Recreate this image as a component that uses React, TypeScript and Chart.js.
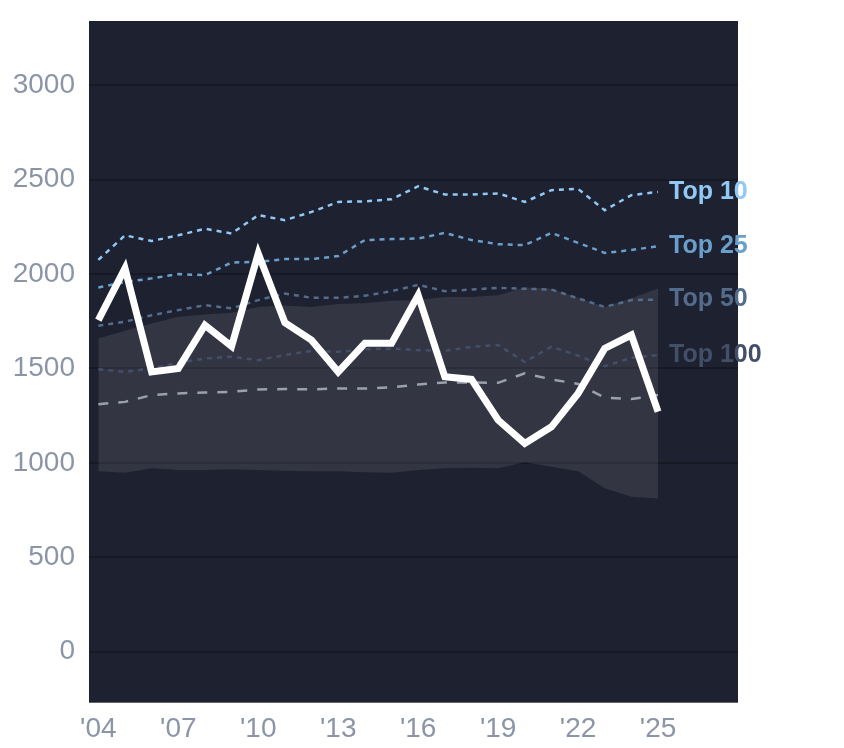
import React, { useEffect, useRef } from "react";
import { Chart, registerables } from "chart.js";

Chart.register(...registerables);

const years = [2004, 2005, 2006, 2007, 2008, 2009, 2010, 2011, 2012, 2013, 2014, 2015, 2016, 2017, 2018, 2019, 2020, 2021, 2022, 2023, 2024, 2025];
const xTicks = [2004, 2007, 2010, 2013, 2016, 2019, 2022, 2025];
const yTicks = [0, 500, 1000, 1500, 2000, 2500, 3000];

const top10 = [2075, 2205, 2175, 2205, 2240, 2215, 2312, 2285, 2329, 2382, 2385, 2396, 2465, 2421, 2421, 2427, 2382, 2444, 2451, 2338, 2418, 2435];
const top25 = [1929, 1957, 1977, 2000, 1994, 2061, 2065, 2079, 2079, 2095, 2180, 2185, 2188, 2218, 2180, 2158, 2153, 2218, 2165, 2112, 2127, 2148];
const top50 = [1726, 1747, 1782, 1809, 1835, 1818, 1862, 1897, 1874, 1874, 1885, 1909, 1943, 1909, 1918, 1927, 1922, 1918, 1871, 1826, 1862, 1865];
const top100 = [1496, 1482, 1500, 1530, 1553, 1562, 1544, 1571, 1593, 1588, 1601, 1606, 1597, 1593, 1615, 1624, 1535, 1615, 1568, 1512, 1556, 1571];
const median = [1311, 1323, 1359, 1368, 1373, 1376, 1389, 1391, 1389, 1394, 1394, 1400, 1415, 1426, 1426, 1424, 1474, 1442, 1418, 1345, 1338, 1359];
const bandUpper = [1659, 1700, 1738, 1774, 1786, 1795, 1826, 1834, 1826, 1841, 1845, 1858, 1862, 1879, 1879, 1888, 1929, 1922, 1875, 1826, 1872, 1924];
const bandLower = [956, 948, 971, 962, 962, 966, 962, 958, 956, 956, 951, 948, 962, 971, 974, 971, 1003, 979, 956, 865, 821, 812];
const player = [1756, 2030, 1482, 1500, 1729, 1618, 2109, 1742, 1650, 1482, 1633, 1633, 1888, 1456, 1442, 1227, 1103, 1191, 1368, 1606, 1677, 1271];

const topLabels = ["Top 10", "Top 25", "Top 50", "Top 100"];
const topColors = ["#90c8f6", "#6a9fcc", "#536c8c", "#434f69"];

const FONT = "'Liberation Sans', Arial, sans-serif";

const pts = (vals: number[]) => vals.map((v, i) => ({ x: years[i], y: v }));

export default function App() {
  const ref = useRef<HTMLCanvasElement | null>(null);

  useEffect(() => {
    if (!ref.current) return;
    const bgPlugin = {
      id: "bg",
      beforeDraw(chart: any) {
        const { ctx, chartArea } = chart;
        ctx.save();
        ctx.fillStyle = "#1e2130";
        ctx.fillRect(chartArea.left, chartArea.top, chartArea.right - chartArea.left, chartArea.bottom - chartArea.top);
        ctx.restore();
      },
    };
    const labelPlugin = {
      id: "endLabels",
      afterDatasetsDraw(chart: any) {
        const { ctx } = chart;
        const xs = chart.scales.x;
        const ys = chart.scales.y;
        const series = [top10, top25, top50, top100];
        ctx.save();
        ctx.font = `bold 25px ${FONT}`;
        ctx.textAlign = "left";
        ctx.textBaseline = "middle";
        series.forEach((s, i) => {
          const last = s.length - 1;
          const x = xs.getPixelForValue(years[last]) + 11;
          const y = ys.getPixelForValue(s[last]);
          ctx.fillStyle = topColors[i];
          ctx.fillText(topLabels[i], x, y);
        });
        ctx.restore();
      },
    };

    const dotted = (data: number[], color: string) => ({
      data: pts(data),
      borderColor: color,
      borderWidth: 2.5,
      borderDash: [5, 5],
      pointRadius: 0,
      fill: false,
    });

    const chart = new Chart(ref.current, {
      type: "line",
      data: {
        datasets: [
          {
            data: pts(player),
            borderColor: "#ffffff",
            borderWidth: 7,
            borderJoinStyle: "miter",
            pointRadius: 0,
            fill: false,
          },
          {
            data: pts(median),
            borderColor: "#9aa0ac",
            borderWidth: 2.5,
            borderDash: [10, 10],
            pointRadius: 0,
            fill: false,
          },
          dotted(top10, topColors[0]),
          dotted(top25, topColors[1]),
          dotted(top50, topColors[2]),
          dotted(top100, topColors[3]),
          {
            data: pts(bandUpper),
            borderWidth: 0,
            borderColor: "rgba(0,0,0,0)",
            backgroundColor: "rgba(255,255,255,0.095)",
            pointRadius: 0,
            fill: "+1",
          },
          {
            data: pts(bandLower),
            borderWidth: 0,
            borderColor: "rgba(0,0,0,0)",
            pointRadius: 0,
            fill: false,
          },
        ] as any,
      },
      options: {
        animation: false,
        responsive: false,
        layout: { padding: { top: 13, right: 98, left: 0, bottom: 0 } },
        plugins: { legend: { display: false }, tooltip: { enabled: false } },
        scales: {
          x: {
            type: "linear",
            min: 2003.65,
            max: 2028,
            afterBuildTicks: (scale: any) => {
              scale.ticks = xTicks.map((v) => ({ value: v }));
            },
            afterFit: (scale: any) => {
              scale.height = 45.3;
              scale.paddingLeft = 0;
              scale.paddingRight = 0;
            },
            grid: { display: false, drawTicks: false },
            border: { display: false },
            ticks: {
              color: "#8b95a7",
              font: { size: 28, family: FONT },
              padding: 10,
              maxRotation: 0,
              autoSkip: false,
              callback: (v: any) => "'" + String(v).slice(2),
            },
          },
          y: {
            type: "linear",
            min: -270,
            max: 3340,
            afterBuildTicks: (scale: any) => {
              scale.ticks = yTicks.map((v) => ({ value: v }));
            },
            afterFit: (scale: any) => {
              scale.width = 81;
              scale.paddingTop = 0;
              scale.paddingBottom = 0;
            },
            grid: { color: "rgba(0,0,0,0.25)", lineWidth: 2, drawTicks: false },
            border: { display: false },
            ticks: {
              color: "#8b95a7",
              font: { size: 28, family: FONT },
              padding: 14,
              callback: (v: any) => String(v),
            },
          },
        },
      } as any,
      plugins: [bgPlugin, labelPlugin],
    });
    return () => chart.destroy();
  }, []);

  return (
    <div style={{ width: 828, height: 740 }}>
      <canvas ref={ref} width={828} height={740} style={{ display: "block" }} />
    </div>
  );
}
